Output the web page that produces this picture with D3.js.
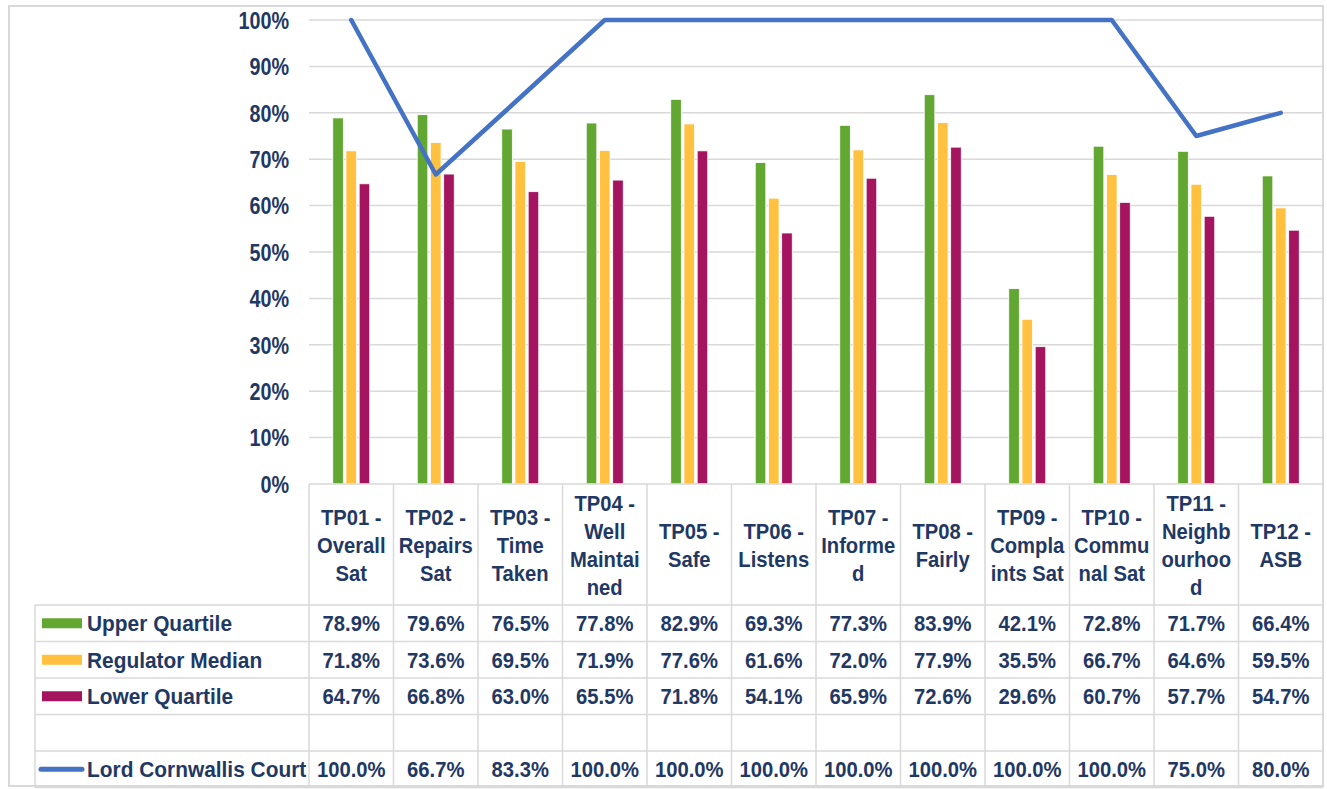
<!DOCTYPE html>
<html>
<head>
<meta charset="utf-8">
<script src="https://cdn.jsdelivr.net/npm/d3@7/dist/d3.min.js"></script>
<style>
  html, body { margin: 0; padding: 0; background: #fff; }
  svg { display: block; }
  text { font-family: "Liberation Sans", Arial, sans-serif; font-weight: bold; fill: #1f3864; }
</style>
</head>
<body>
<svg id="chart" width="1327" height="789"></svg>
<script>
// ---- data ----
const categories = ["TP01 - Overall Sat","TP02 - Repairs Sat","TP03 - Time Taken","TP04 - Well Maintained","TP05 - Safe","TP06 - Listens","TP07 - Informed","TP08 - Fairly","TP09 - Complaints Sat","TP10 - Communal Sat","TP11 - Neighbourhood","TP12 - ASB"];
const categoryLines = [
  ["TP01 -","Overall","Sat"],
  ["TP02 -","Repairs","Sat"],
  ["TP03 -","Time","Taken"],
  ["TP04 -","Well","Maintai","ned"],
  ["TP05 -","Safe"],
  ["TP06 -","Listens"],
  ["TP07 -","Informe","d"],
  ["TP08 -","Fairly"],
  ["TP09 -","Compla","ints Sat"],
  ["TP10 -","Commu","nal Sat"],
  ["TP11 -","Neighb","ourhoo","d"],
  ["TP12 -","ASB"]
];
const upperQuartile   = [78.9, 79.6, 76.5, 77.8, 82.9, 69.3, 77.3, 83.9, 42.1, 72.8, 71.7, 66.4];
const regulatorMedian = [71.8, 73.6, 69.5, 71.9, 77.6, 61.6, 72.0, 77.9, 35.5, 66.7, 64.6, 59.5];
const lowerQuartile   = [64.7, 66.8, 63.0, 65.5, 71.8, 54.1, 65.9, 72.6, 29.6, 60.7, 57.7, 54.7];
const lordCornwallis  = [100.0, 66.7, 83.3, 100.0, 100.0, 100.0, 100.0, 100.0, 100.0, 100.0, 75.0, 80.0];
const yTicks = [0, 10, 20, 30, 40, 50, 60, 70, 80, 90, 100];

const barSeries = [
  { name: "Upper Quartile", values: upperQuartile, color: "#63a733" },
  { name: "Regulator Median", values: regulatorMedian, color: "#ffc13f" },
  { name: "Lower Quartile", values: lowerQuartile, color: "#a5145f" }
];
const lineSeries = { name: "Lord Cornwallis Court", values: lordCornwallis, color: "#4472c4" };

// ---- layout ----
const svg = d3.select("#chart");
const plotL = 309, plotR = 1323, plotT = 20, plotB = 484;
const tableL = 35;
const headerB = 605;
const rowH = 36.5;
const gridColor = "#d9d9d9";
const fs = 22, sx = 0.92;

const x = d3.scaleBand().domain(categories).range([plotL, plotR]).paddingInner(0).paddingOuter(0);
const y = d3.scaleLinear().domain([0, 100]).range([plotB, plotT]);
const x1 = d3.scaleBand().domain(barSeries.map(s => s.name)).range([-18.5, 18.5]).paddingInner(0.2);

function addText(g, tx, ty, str, size, scaleX, anchor) {
  return g.append("text")
    .attr("transform", `translate(${tx},${ty}) scale(${scaleX},1)`)
    .attr("x", 0).attr("y", 0).attr("dy", "0.36em")
    .attr("text-anchor", anchor || "start")
    .attr("font-size", size).text(str);
}

// outer border
svg.append("rect").attr("x", 9).attr("y", 6).attr("width", 1314).attr("height", 780)
  .attr("fill", "none").attr("stroke", gridColor).attr("stroke-width", 2);

// gridlines
svg.append("g").selectAll("line").data(yTicks.filter(d => d > 0)).join("line")
  .attr("x1", plotL).attr("x2", plotR)
  .attr("y1", d => y(d)).attr("y2", d => y(d))
  .attr("stroke", gridColor).attr("stroke-width", 1.5);

// y axis labels
const yAxis = d3.axisLeft(y).tickValues(yTicks).tickFormat(d => d + "%").tickSize(0).tickPadding(20);
const yg = svg.append("g").attr("transform", `translate(${plotL},0)`).call(yAxis);
yg.select(".domain").remove();
yg.attr("font-family", null).attr("font-size", null);
yg.selectAll("text").attr("font-size", 23).attr("dy", "0.36em").attr("x", 0)
  .attr("transform", "translate(-20,0) scale(0.86,1)");

// bars
const groups = svg.append("g").selectAll("g").data(categories).join("g")
  .attr("transform", d => `translate(${x(d) + x.bandwidth() / 2},0)`);
groups.selectAll("rect").data((d, i) => barSeries.map(s => ({ s, v: s.values[i] }))).join("rect")
  .attr("x", d => x1(d.s.name))
  .attr("width", x1.bandwidth())
  .attr("y", d => y(d.v))
  .attr("height", d => y(0) - y(d.v))
  .attr("fill", d => d.s.color)
  .attr("stroke", "#fff").attr("stroke-width", 0.8);

// line
const line = d3.line()
  .x((d, i) => x(categories[i]) + x.bandwidth() / 2)
  .y(d => y(d));
svg.append("path").datum(lineSeries.values)
  .attr("d", line).attr("fill", "none")
  .attr("stroke", lineSeries.color).attr("stroke-width", 4.5)
  .attr("stroke-linejoin", "round").attr("stroke-linecap", "round");

// ---- data table ----
const tg = svg.append("g");
const tableB = headerB + 5 * rowH;

// horizontal borders
tg.append("line").attr("x1", plotL).attr("x2", plotR).attr("y1", plotB).attr("y2", plotB)
  .attr("stroke", gridColor).attr("stroke-width", 1.5);
[headerB, headerB + rowH, headerB + 2 * rowH, headerB + 3 * rowH, headerB + 4 * rowH, tableB].forEach(yy => {
  tg.append("line").attr("x1", tableL).attr("x2", plotR).attr("y1", yy).attr("y2", yy)
    .attr("stroke", gridColor).attr("stroke-width", 1.5);
});
// vertical borders
tg.append("line").attr("x1", tableL).attr("x2", tableL).attr("y1", headerB).attr("y2", tableB)
  .attr("stroke", gridColor).attr("stroke-width", 1.5);
categories.concat([null]).forEach((c) => {
  const xx = c ? x(c) : plotR;
  tg.append("line").attr("x1", xx).attr("x2", xx).attr("y1", plotB).attr("y2", tableB)
    .attr("stroke", gridColor).attr("stroke-width", 1.5);
});

// category labels
const lh = 28;
categories.forEach((c, i) => {
  const lines = categoryLines[i];
  const cx = x(c) + x.bandwidth() / 2;
  const midY = (plotB + headerB) / 2 + 1;
  lines.forEach((l, j) => {
    addText(tg, cx, midY + (j - (lines.length - 1) / 2) * lh, l, fs, sx, "middle");
  });
});

// value rows
const tableRows = [
  { s: barSeries[0], row: 0, type: "bar" },
  { s: barSeries[1], row: 1, type: "bar" },
  { s: barSeries[2], row: 2, type: "bar" },
  { s: lineSeries, row: 4, type: "line" }
];
tableRows.forEach(r => {
  const cy = headerB + r.row * rowH + rowH / 2;
  if (r.type === "bar") {
    tg.append("rect").attr("x", 42).attr("y", cy - 5).attr("width", 40).attr("height", 10).attr("fill", r.s.color);
  } else {
    tg.append("line").attr("x1", 41).attr("x2", 82).attr("y1", cy).attr("y2", cy)
      .attr("stroke", r.s.color).attr("stroke-width", 5).attr("stroke-linecap", "round");
  }
  addText(tg, 87, cy, r.s.name, fs, 0.95, "start");
  r.s.values.forEach((v, i) => {
    addText(tg, x(categories[i]) + x.bandwidth() / 2, cy, v.toFixed(1) + "%", fs, sx, "middle");
  });
});
</script>
</body>
</html>
